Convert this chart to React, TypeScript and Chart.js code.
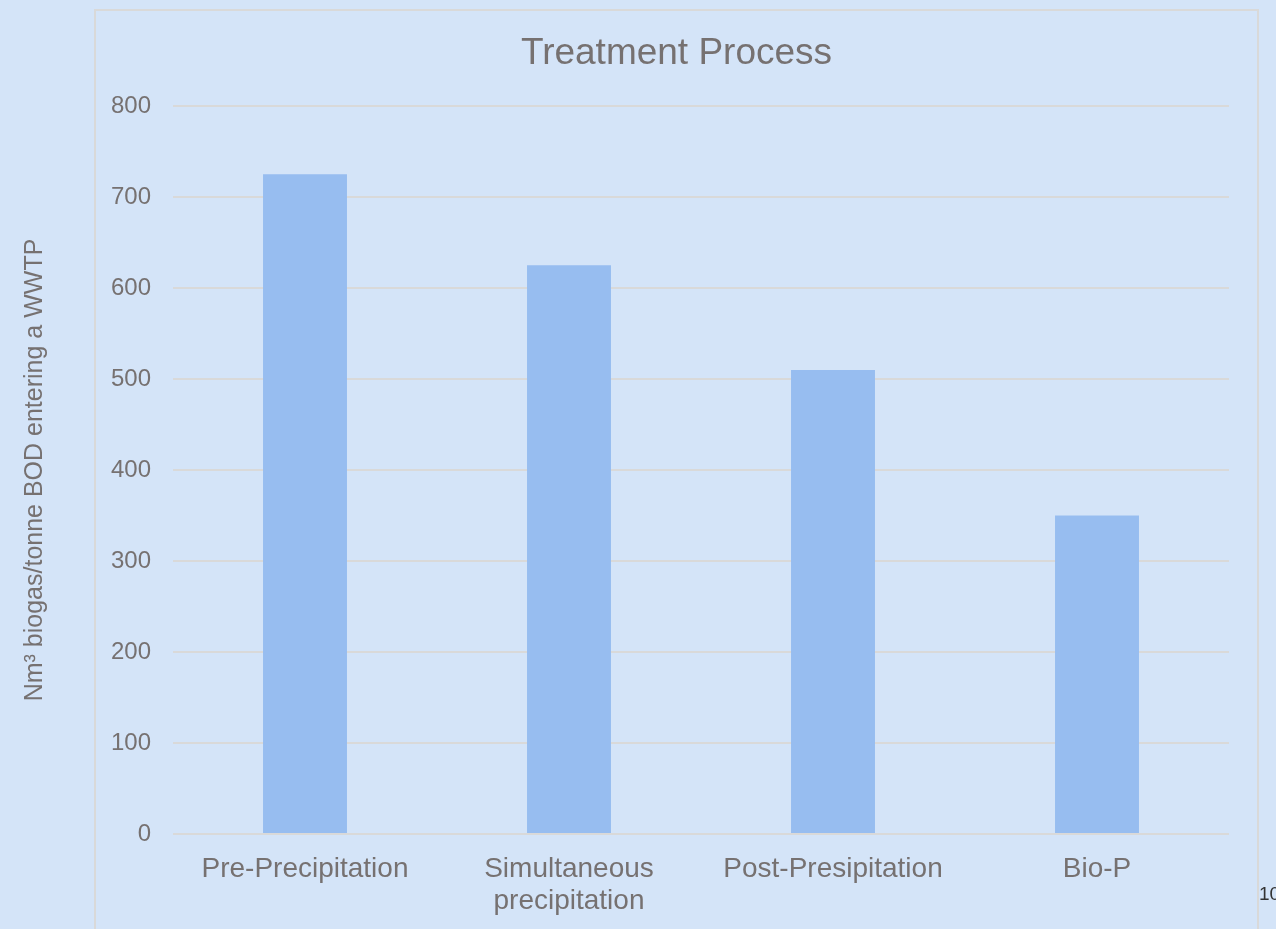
import React, { useEffect, useRef } from "react";
import { Chart, registerables } from "chart.js";

Chart.register(...registerables);

const categories: (string | string[])[] = [
  "Pre-Precipitation",
  ["Simultaneous", "precipitation"],
  "Post-Presipitation",
  "Bio-P",
];
const values: number[] = [725, 625, 510, 350];
const titleText = "Treatment Process";
const yTitle = "Nm³ biogas/tonne BOD entering a WWTP";
const pageNumber = "10";

const BG = "#d4e4f8";
const TEXT = "#767171";
const GRID = "#d9d9d9";
const BAR = "#97bdf0";
const FONT = "'Liberation Sans', Arial, sans-serif";

const framePlugin = {
  id: "frame",
  afterLayout(chart: any) {
    const t = chart.titleBlock;
    if (t) {
      t.left = 95;
      t.right = 1258;
      t.width = 1163;
    }
  },
  beforeDraw(chart: any) {
    const ctx = chart.ctx;
    ctx.save();
    ctx.fillStyle = BG;
    ctx.fillRect(0, 0, chart.width, chart.height);
    ctx.strokeStyle = GRID;
    ctx.lineWidth = 2;
    ctx.strokeRect(95, 10, 1163, chart.height + 20);
    ctx.restore();
  },
  afterDraw(chart: any) {
    const ctx = chart.ctx;
    ctx.save();
    ctx.fillStyle = "#333333";
    ctx.font = "19px " + FONT;
    ctx.textBaseline = "middle";
    ctx.textAlign = "left";
    ctx.fillText(pageNumber, 1259, 895);
    ctx.restore();
  },
};

export default function App() {
  const ref = useRef<HTMLCanvasElement | null>(null);
  useEffect(() => {
    document.body.style.margin = "0";
    document.body.style.background = BG;
    const canvas = ref.current!;
    const chart = new Chart(canvas, {
      type: "bar",
      data: {
        labels: categories,
        datasets: [
          {
            data: values,
            backgroundColor: BAR,
            categoryPercentage: 1,
            barPercentage: 0.318,
          },
        ],
      },
      options: {
        animation: false,
        responsive: false,
        devicePixelRatio: 1,
        layout: { padding: { top: 32, right: 47, bottom: 0, left: 0 } },
        plugins: {
          legend: { display: false },
          tooltip: { enabled: false },
          title: {
            display: true,
            text: titleText,
            color: TEXT,
            font: { family: FONT, size: 37, weight: "normal" },
            padding: { top: 0, bottom: 29.6 },
          },
        },
        scales: {
          x: {
            grid: { display: false, drawTicks: false },
            border: { display: false },
            ticks: {
              color: TEXT,
              padding: 19,
              maxRotation: 0,
              autoSkip: false,
              font: { family: FONT, size: 28, lineHeight: 1.15 },
            },
            afterFit(scale: any) {
              scale.height = 95;
            },
          },
          y: {
            min: 0,
            max: 800,
            ticks: {
              stepSize: 100,
              color: TEXT,
              padding: 22,
              font: { family: FONT, size: 24 },
            },
            grid: { color: GRID, lineWidth: 2, drawTicks: false },
            border: { display: false },
            title: {
              display: true,
              text: yTitle,
              color: TEXT,
              padding: { top: 20, bottom: 0 },
              font: { family: FONT, size: 25 },
            },
            afterFit(scale: any) {
              scale.width = 173;
            },
          },
        },
      },
      plugins: [framePlugin],
    });
    return () => chart.destroy();
  }, []);
  return (
    <div style={{ width: 1276, height: 929, background: BG }}>
      <canvas ref={ref} width={1276} height={929} style={{ display: "block" }} />
    </div>
  );
}
